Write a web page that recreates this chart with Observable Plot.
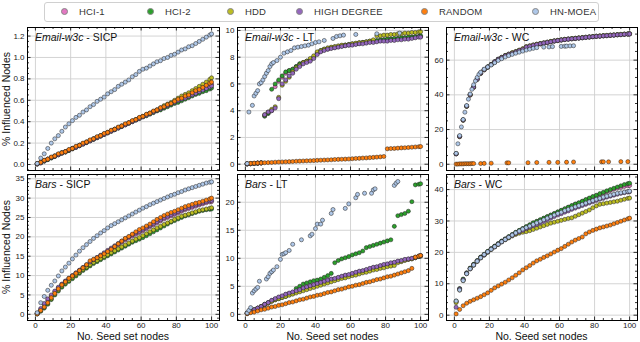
<!DOCTYPE html>
<html><head><meta charset="utf-8">
<script src="https://cdn.jsdelivr.net/npm/d3@7"></script>
<script src="https://cdn.jsdelivr.net/npm/@observablehq/plot@0.6"></script>
<style>
body{margin:0;background:#fff;font-family:"Liberation Sans",Arial,Helvetica,sans-serif;}
#fig{position:relative;width:640px;height:342px;overflow:hidden;background:#fff}
.pane{position:absolute}
.ttl{position:absolute;font-size:10.5px;line-height:10.5px;color:#111;white-space:nowrap}
.xl{position:absolute;font-size:10.5px;line-height:10.5px;color:#111;white-space:nowrap;transform:translateX(-50%)}
.yl{position:absolute;font-size:10.5px;line-height:10.5px;color:#111;white-space:nowrap;transform:translate(-50%,-50%) rotate(-90deg)}
.lg{position:absolute;left:44px;top:2px;width:553px;height:18px;border:1px solid #d0d0d0;border-radius:3px;background:#fff}
.lm{position:absolute;width:7px;height:7px;border-radius:50%;box-sizing:border-box;border:0.5px solid #888}
.lt{position:absolute;font-size:9.5px;line-height:9.5px;color:#333;white-space:nowrap;letter-spacing:0.2px}
</style></head>
<body><div id="fig"></div>
<script>
// ---------------- data ----------------
const names = ["HCI-1","HCI-2","HDD","HIGH DEGREE","RANDOM","HN-MOEA"];
const colors = ["#e377c2","#2ca02c","#bcbd22","#9467bd","#ff7f0e","#aec7e8"];
const xTicks = [0,20,40,60,80,100];
const seeds = [1,3,5,7,9,11,13,15,17,19, 21,23,25,27,29,31,33,35,37,39, 41,43,45,47,49,51,53,55,57,59, 61,63,65,67,69,71,73,75,77,79, 81,83,85,87,89,91,93,95,97,99, 100];

// Email-w3c SICP
const emailSicpTicks = [0,0.2,0.4,0.6,0.8,1.0,1.2];
const emailSicpHci1 = [.005,.02,.035,.05,.065,.08,.095,.11,.12,.135, .15,.165,.18,.195,.21,.225,.24,.255,.27,.285, .30,.315,.33,.345,.36,.375,.39,.405,.42,.435, .45,.465,.48,.495,.51,.525,.54,.555,.57,.585, .60,.615,.63,.645,.66,.675,.69,.705,.72,.74, .75];
const emailSicpHci2 = [.005,.015,.03,.045,.06,.075,.09,.105,.115,.13, .145,.16,.175,.19,.205,.22,.235,.25,.265,.28, .295,.31,.325,.34,.355,.37,.385,.40,.415,.43, .445,.455,.47,.485,.50,.51,.525,.54,.555,.57, .58,.595,.61,.625,.64,.655,.665,.68,.69,.705, .715];
const emailSicpHdd = [.005,.02,.035,.05,.065,.08,.095,.11,.12,.135, .15,.165,.18,.195,.21,.225,.24,.255,.27,.285, .30,.315,.33,.345,.36,.375,.39,.405,.42,.435, .45,.465,.48,.495,.51,.53,.55,.565,.58,.60, .62,.64,.655,.67,.69,.71,.73,.75,.77,.795, .81];
const emailSicpHd = [.005,.015,.035,.05,.065,.075,.09,.105,.12,.135, .15,.16,.175,.19,.205,.22,.235,.25,.265,.28, .295,.31,.325,.34,.355,.37,.385,.40,.415,.43, .445,.46,.475,.49,.505,.52,.535,.55,.565,.58, .595,.61,.62,.635,.65,.665,.68,.695,.71,.725, .735];
const emailSicpRandom = [.01,.02,.04,.05,.07,.08,.10,.11,.12,.14, .15,.17,.18,.20,.21,.23,.24,.26,.27,.29, .30,.32,.33,.35,.36,.38,.39,.41,.42,.44, .45,.47,.48,.50,.51,.53,.54,.56,.57,.59, .61,.62,.64,.65,.67,.69,.70,.72,.74,.76, .77];
const emailSicpMoea = [.01,.06,.10,.15,.20,.24,.27,.31,.35,.38, .41,.44,.46,.49,.51,.54,.56,.59,.61,.63, .66,.68,.70,.73,.75,.77,.79,.82,.84,.87, .89,.90,.92,.94,.96,.97,.99,1.00,1.02,1.03, 1.05,1.07,1.08,1.10,1.11,1.13,1.15,1.17,1.19,1.21, 1.22];

// Email-w3c LT
const emailLtTicks = [0,2,4,6,8,10];
const emailLtHci1 = [.02,.04,.06,.08,.10,3.6,3.8,4.0,5.8,6.2, 6.5,6.8,7.0,7.1,7.3,7.5,7.6,7.7,7.8,8.0, 8.3,8.45,8.55,8.6,8.7,8.75,8.8,8.85,8.9,8.9, 8.95,9.0,9.05,9.1,9.1,9.15,9.2,9.2,9.25,9.3, 9.3,9.35,9.35,9.4,9.4,9.45,9.45,9.5,9.5,9.55, 9.55];
const emailLtHci2 = [.02,.04,.06,.08,.10,3.6,3.8,5.6,6.0,6.3, 6.6,6.9,7.0,7.1,7.3,7.5,7.6,7.7,7.8,8.0, 8.3,8.5,8.6,8.65,8.7,8.75,8.8,8.85,8.9,8.95, 9.0,9.0,9.05,9.1,9.15,9.2,9.2,9.25,9.3,9.3, 9.35,9.35,9.4,9.4,9.45,9.45,9.5,9.5,9.55,9.55, 9.6];
const emailLtHdd = [.02,.03,.05,.07,.09,3.7,3.9,4.1,4.3,5.0, 5.9,6.2,6.5,6.9,7.2,7.4,7.6,7.7,7.9,8.1, 8.4,8.5,8.6,8.7,8.75,8.8,8.85,8.9,8.9,8.95, 9.0,9.05,9.1,9.1,9.15,9.2,9.3,9.6,9.6,9.65, 9.65,9.7,9.7,9.75,9.75,9.8,9.8,9.85,9.85,9.9, 9.9];
const emailLtHd = [.02,.04,.06,.08,.10,3.7,3.9,4.0,4.2,4.9, 6.0,6.3,6.6,6.8,7.1,7.3,7.5,7.6,7.7,7.9, 8.2,8.4,8.5,8.6,8.65,8.7,8.75,8.8,8.85,8.9, 8.9,8.95,9.0,9.0,9.05,9.1,9.1,9.15,9.2,9.2, 9.2,9.25,9.25,9.3,9.3,9.35,9.35,9.4,9.45,9.5, 9.5];
const emailLtRandom = [.05,.06,.08,.09,.10,.11,.12,.13,.15,.16, .17,.18,.19,.20,.22,.23,.24,.25,.26,.27, .29,.30,.31,.32,.33,.35,.36,.37,.38,.39, .41,.43,.44,.46,.47,.49,.51,.53,.55,.58, 1.15,1.17,1.18,1.20,1.22,1.23,1.25,1.27,1.29,1.31, 1.32];
const emailLtMoeaX = [1,2,4,5,6,7,8,9,10,11, 12,13,14,15,16,18,20,22,24,26, 28,30,32,34,36,38,40,42,45,50, 52,54,56,63,75,88];
const emailLtMoeaY = [0.05,3.9,4.4,5.1,5.3,5.5,6.0,6.1,6.3,6.55, 6.8,7.0,7.3,7.5,7.6,7.75,8.0,8.3,8.4,8.5, 8.7,8.75,8.8,8.85,8.9,9.0,9.1,9.15,9.25,9.4, 9.55,9.6,9.65,9.7,9.75,9.8];

// Email-w3c WC
const emailWcTicks = [0,20,40,60];
const emailWcHci1 = [6,16,25.4,33.4,40,44.4,49,52.4,54.5,56, 57.5,59,60.4,61.5,62.5,63.2,64,64.6,65.4,66.1, 67.3,67.9,68.4,68.9,69.3,69.7,70.1,70.5,70.9,71.2, 71.5,71.8,72,72.2,72.4,72.6,72.8,73,73.2,73.4, 73.6,73.7,73.9,74,74.2,74.3,74.5,74.6,74.8,74.9, 75];
const emailWcHci2 = [6.1,16.2,25.6,33.6,40.2,44.6,49.1,52.6,54.6,56.1, 57.6,59.1,60.6,61.6,62.6,63.4,64.1,64.8,65.6,66.3, 67.6,68.1,68.6,69.1,69.5,69.9,70.3,70.7,71.1,71.4, 71.7,72,72.2,72.4,72.6,72.8,73,73.2,73.4,73.6, 73.8,73.9,74.1,74.2,74.4,74.5,74.7,74.8,75,75.1, 75.2];
const emailWcHdd = [6,15.8,25.3,33.3,39.8,44.3,48.8,52.3,54.3,55.9, 57.4,58.9,60.4,61.6,62.7,63.5,64.3,65,65.8,66.6, 67.8,68.3,68.8,69.2,69.6,70,70.4,70.8,71.1,71.4, 71.7,72,72.2,72.4,72.6,72.8,73,73.2,73.4,73.6, 73.8,74,74.1,74.3,74.4,74.6,74.7,74.9,75,75.1, 75.2];
const emailWcHd = [6,16,25.5,33.5,40,44.5,49,52.5,54.5,56, 57.5,59,60.5,61.5,62.5,63.3,64,64.7,65.5,66.2, 67.5,68,68.5,69,69.4,69.8,70.2,70.6,71,71.3, 71.6,71.9,72.1,72.3,72.5,72.7,72.9,73.1,73.3,73.5, 73.7,73.8,74,74.1,74.3,74.4,74.6,74.7,74.9,75, 75.1];
const emailWcRandomX = [1,2,3,4,5,6,7,8,9,10, 11,15,17,21,30,31,42,47,54,59, 64,68,84,85,88,95,99];
const emailWcRandomY = [0.1,0.1,0.2,0.2,0.2,0.3,0.3,0.3,0.3,0.4, 0.4,0.4,0.5,0.6,0.8,0.8,0.9,1.0,1.1,1.1, 1.2,1.3,1.4,1.4,1.4,1.5,1.5];
const emailWcMoeaX = [1,2,3,4,5,6,7,8,9,10, 11,12,13,14,15,17,19,21,23,25, 27,29,31,33,35,37,39,41,43,45, 47,51,54,56,61,63,64,66,68];
const emailWcMoeaY = [6.3,11.8,16.5,21.5,25.8,30,33.8,37.5,40.5,43.2, 45.8,48,50,51.8,53,54.8,56,57.2,58.5,59.8, 60.8,61.8,62.6,63.3,64,64.6,65.2,65.8,66.3,66.8, 67.2,67.5,67.6,67.8,67.9,68,68.1,68.2,68.3];

// Bars SICP
const barsSicpTicks = [0,5,10,15,20,25,30,35];
const barsSicpHci1 = [0.2,1.2,2.4,3.6,4.7,5.8,6.8,7.7,8.5,9.2, 9.9,10.6,11.3,12.0,12.6,13.2,13.8,14.4,15.0,15.6, 16.2,16.8,17.4,18.0,18.6,19.2,19.7,20.2,20.7,21.1, 21.6,22.1,22.6,23.1,23.6,24.1,24.6,25.0,25.4,25.8, 26.2,26.6,27.0,27.3,27.6,27.9,28.2,28.5,28.8,29.0, 29.1];
const barsSicpHci2 = [0.1,0.8,1.6,2.6,3.8,5.0,6.0,7.0,7.8,8.5, 9.2,9.9,10.6,11.3,11.9,12.5,13.1,13.6,14.1,14.6, 15.1,15.6,16.1,16.6,17.1,17.6,18.1,18.6,19.0,19.4, 19.8,20.3,20.8,21.3,21.8,22.3,22.8,23.3,23.8,24.2, 24.6,25.0,25.4,25.7,26.0,26.3,26.6,26.8,27.0,27.1, 27.2];
const barsSicpHdd = [0.1,0.9,1.8,2.8,4.0,5.2,6.3,7.3,8.1,8.8, 9.5,10.2,10.9,11.6,12.2,12.8,13.4,13.9,14.4,14.9, 15.4,15.9,16.4,16.9,17.4,17.9,18.4,18.9,19.4,19.8, 20.3,20.8,21.3,21.8,22.3,22.7,23.2,23.6,24.0,24.5, 24.9,25.3,25.6,25.9,26.2,26.5,26.8,27.0,27.2,27.4, 27.5];
const barsSicpHd = [0.3,1.5,2.8,4.0,5.0,6.0,7.0,7.8,8.6,9.3, 10.0,10.7,11.4,12.1,12.8,13.5,14.1,14.7,15.3,15.9, 16.5,17.1,17.7,18.3,18.9,19.5,20.0,20.5,21.0,21.4, 21.9,22.4,22.9,23.4,23.9,24.4,24.9,25.3,25.7,26.1, 26.5,26.9,27.3,27.6,27.9,28.2,28.5,28.8,29.1,29.3, 29.4];
const barsSicpRandom = [0.1,1.0,1.9,3.0,4.3,5.4,6.6,7.6,8.4,9.3, 9.9,10.6,11.3,12.0,12.8,13.8,14.2,14.6,15.1,15.6, 16.2,16.8,17.5,18.2,18.9,19.6,20.1,20.7,21.3,21.9, 22.3,22.8,23.3,23.9,24.5,25.0,25.5,25.9,26.3,26.6, 27.0,27.4,27.8,28.1,28.4,28.7,28.9,29.2,29.5,29.8, 30.0];
const barsSicpMoea = [0.4,3.0,4.6,6.2,7.5,8.6,9.9,11.2,12.2,13.2, 14.3,15.3,16.3,17.2,18.0,18.8,19.6,20.3,21.0,21.6, 22.3,22.9,23.4,23.9,24.4,24.9,25.4,25.9,26.4,26.9, 27.4,27.8,28.3,28.7,29.1,29.5,29.9,30.3,30.7,31.0, 31.4,31.7,32.1,32.4,32.7,33.0,33.3,33.6,33.9,34.1, 34.2];

// Bars LT
const barsLtTicks = [0,5,10,15,20];
const barsLtHci1 = [0.2,0.5,0.8,1.1,1.4,1.7,2.0,2.4,2.7,3.0, 3.2,3.5,3.7,3.9,4.1,4.3,4.6,4.8,5.0,5.2, 5.4,5.6,5.8,6.0,6.2,6.3,6.5,6.7,6.9,7.0, 7.2,7.4,7.6,7.7,7.9,8.1,8.3,8.4,8.6,8.8, 8.9,9.1,9.2,9.4,9.5,9.7,9.8,9.9,10.1,10.3, 10.4];
const barsLtHci2 = [0.2,0.5,0.8,1.1,1.4,1.8,2.1,2.4,2.6,2.8, 3.0,3.2,3.5,3.7,4.6,5.0,5.4,5.6,5.8,6.0, 6.1,6.3,6.6,6.9,7.3,9.2,9.6,9.9,10.1,10.3, 10.6,10.8,11.0,11.3,11.9,12.1,12.3,12.5,12.7,12.9, 13.1,13.3,15.7,17.6,17.8,18.0,18.4,20.1,23.1,23.2, 23.3];
const barsLtHdd = [0.2,0.5,0.8,1.1,1.4,1.7,2.0,2.3,2.6,2.8, 3.0,3.2,3.4,3.6,3.8,4.0,4.2,4.4,4.6,4.8, 5.0,5.2,5.4,5.6,5.8,6.0,6.2,6.4,6.5,6.7, 6.9,7.0,7.2,7.4,7.5,7.7,7.9,8.0,8.2,8.3, 8.5,8.6,8.7,9.2,9.4,9.6,9.8,9.9,10.1,10.3, 10.4];
const barsLtHd = [0.2,0.5,0.8,1.1,1.4,1.8,2.1,2.5,2.8,3.1, 3.3,3.6,3.8,4.0,4.2,4.4,4.7,4.9,5.1,5.3, 5.5,5.7,5.9,6.1,6.3,6.4,6.6,6.8,7.0,7.1, 7.3,7.5,7.7,7.8,8.0,8.2,8.4,8.5,8.7,8.9, 9.0,9.2,9.3,9.5,9.6,9.8,9.9,10.0,10.2,10.4, 10.5];
const barsLtRandom = [0.1,0.3,0.4,0.6,0.8,0.9,1.1,1.3,1.4,1.6, 1.7,1.9,2.1,2.2,2.4,2.6,2.7,2.9,3.1,3.2, 3.4,3.5,3.7,3.9,4.0,4.2,4.4,4.5,4.7,4.9, 5.0,5.2,5.3,5.5,5.7,5.8,6.0,6.2,6.3,6.5, 6.7,6.8,7.0,7.2,7.4,7.6,7.8,8.2,10.2,10.4, 10.5];
const barsLtMoeaX = [1,2,3,4,5,6,7,8,12,13, 14,15,16,18,20,21,22,23,25,27, 32,37,38,40,41,43,44,49,50,57, 59,63,64,68,72,73,74,85,86,87];
const barsLtMoeaY = [0.25,0.7,1.2,3.8,4.2,4.5,4.8,5.9,6.3,6.7, 7.3,7.6,7.9,8.5,9.8,10.7,10.8,11.0,11.4,12.5, 13.3,14.0,14.3,15.3,16.1,16.1,16.8,18.0,18.7,18.9, 19.7,20.8,21.4,21.6,21.6,22.2,22.4,23.0,23.4,23.7];

// Bars WC
const barsWcTicks = [0,10,20,30,40];
const barsWcHci1 = [4.3,8.3,11.3,13.4,14.9,16.1,17.3,18.4,19.3,20.2, 21.1,21.9,22.7,23.5,24.2,24.9,25.6,26.3,26.9,27.5, 28.1,28.7,29.3,29.8,30.3,30.8,31.3,31.8,32.3,32.8, 33.3,33.8,34.3,34.8,35.3,35.7,36.2,36.7,37.1,37.6, 38.0,38.4,38.8,39.3,39.7,40.1,40.4,40.7,41.0,41.2, 41.3];
const barsWcHci2 = [4.5,8.5,11.5,13.5,15.0,16.2,17.4,18.5,19.4,20.3, 21.2,22.0,22.8,23.6,24.3,25.0,25.7,26.4,27.0,27.6, 28.2,28.8,29.4,29.9,30.4,30.9,31.4,31.9,32.4,32.9, 33.4,33.9,34.4,34.9,35.4,35.8,36.3,36.8,37.3,37.8, 38.2,38.7,39.1,39.6,40.0,40.4,40.8,41.2,41.6,41.9, 42.0];
const barsWcHdd = [4.0,8.0,11.0,13.2,14.7,15.9,17.1,18.2,19.1,20.0, 20.9,21.7,22.5,23.3,24.0,24.6,25.2,25.7,26.1,26.4, 26.6,26.9,27.3,27.7,28.1,28.5,28.9,29.3,29.6,29.9, 30.2,30.5,30.8,31.0,31.5,32.0,32.5,33.0,33.5,34.2, 34.8,35.3,35.5,35.7,35.9,36.1,36.3,36.6,36.9,37.2, 37.3];
const barsWcHd = [2.5,8.3,11.3,13.3,14.8,16.0,17.2,18.3,19.2,20.1, 21.0,21.8,22.6,23.4,24.1,24.8,25.4,26.0,26.5,27.0, 27.5,28.0,28.5,28.9,29.4,29.9,30.4,30.9,31.4,31.9, 32.3,32.8,33.2,33.7,34.1,34.5,34.9,35.3,35.7,36.1, 36.5,36.9,37.2,37.6,37.9,38.2,38.5,38.8,39.0,39.2, 39.3];
const barsWcRandom = [0.4,1.8,3.0,3.8,4.4,4.9,5.4,5.9,6.5,7.1, 7.9,8.7,9.3,9.9,10.5,11.2,11.9,12.7,13.5,14.4, 15.1,15.8,16.6,17.3,17.8,18.4,18.9,19.5,20.1,20.7, 21.2,21.9,22.6,23.3,23.9,24.4,24.9,25.9,26.5,27.0, 27.4,27.8,28.1,28.4,28.7,29.1,29.5,29.9,30.3,30.7, 30.9];
const barsWcMoea = [4.5,8.0,11.0,13.2,14.8,16.0,17.2,18.3,19.3,20.2, 21.0,21.8,22.6,23.4,24.1,24.8,25.5,26.2,26.8,27.4, 27.9,28.4,28.9,29.4,29.9,30.4,30.9,31.4,31.9,32.4, 32.8,33.3,33.7,34.1,34.5,34.9,35.3,35.7,36.1,36.5, 36.9,37.2,37.6,37.9,38.2,38.5,38.8,39.0,39.2,39.4, 39.5];

// ---------------- build ----------------
const FONT = '"Liberation Sans", Arial, Helvetica, sans-serif';
const rows = (xs, ys, s) => ys.map((y, i) => ({x: xs[i], y, s}));

const panels = [
  {ds:"Email-w3c", model:"SICP", col:0, row:0, yDomain:[-0.056,1.28], yTicks:emailSicpTicks, minor:0.05, fmt:".1f",
   series:[rows(seeds,emailSicpHci1,"HCI-1"), rows(seeds,emailSicpHci2,"HCI-2"), rows(seeds,emailSicpHdd,"HDD"), rows(seeds,emailSicpHd,"HIGH DEGREE"), rows(seeds,emailSicpRandom,"RANDOM"), rows(seeds,emailSicpMoea,"HN-MOEA")]},
  {ds:"Email-w3c", model:"LT", col:1, row:0, yDomain:[-0.47,10.22], yTicks:emailLtTicks, minor:0.5, fmt:"d",
   series:[rows(seeds,emailLtHci1,"HCI-1"), rows(seeds,emailLtHci2,"HCI-2"), rows(seeds,emailLtHdd,"HDD"), rows(seeds,emailLtHd,"HIGH DEGREE"), rows(seeds,emailLtRandom,"RANDOM"), rows(emailLtMoeaX,emailLtMoeaY,"HN-MOEA")]},
  {ds:"Email-w3c", model:"WC", col:2, row:0, yDomain:[-3.6,78.8], yTicks:emailWcTicks, minor:5, fmt:"d",
   series:[rows(seeds,emailWcHci1,"HCI-1"), rows(seeds,emailWcHci2,"HCI-2"), rows(seeds,emailWcHdd,"HDD"), rows(seeds,emailWcHd,"HIGH DEGREE"), rows(emailWcRandomX,emailWcRandomY,"RANDOM"), rows(emailWcMoeaX,emailWcMoeaY,"HN-MOEA")]},
  {ds:"Bars", model:"SICP", col:0, row:1, yDomain:[-1.6,36.1], yTicks:barsSicpTicks, minor:1, fmt:"d",
   series:[rows(seeds,barsSicpHci1,"HCI-1"), rows(seeds,barsSicpHci2,"HCI-2"), rows(seeds,barsSicpHdd,"HDD"), rows(seeds,barsSicpHd,"HIGH DEGREE"), rows(seeds,barsSicpRandom,"RANDOM"), rows(seeds,barsSicpMoea,"HN-MOEA")]},
  {ds:"Bars", model:"LT", col:1, row:1, yDomain:[-1.1,24.95], yTicks:barsLtTicks, minor:1, fmt:"d",
   series:[rows(seeds,barsLtHci1,"HCI-1"), rows(seeds,barsLtHci2,"HCI-2"), rows(seeds,barsLtHdd,"HDD"), rows(seeds,barsLtHd,"HIGH DEGREE"), rows(seeds,barsLtRandom,"RANDOM"), rows(barsLtMoeaX,barsLtMoeaY,"HN-MOEA")]},
  {ds:"Bars", model:"WC", col:2, row:1, yDomain:[-1.7,44.8], yTicks:barsWcTicks, minor:2, fmt:"d",
   series:[rows(seeds,barsWcHci1,"HCI-1"), rows(seeds,barsWcHci2,"HCI-2"), rows(seeds,barsWcHdd,"HDD"), rows(seeds,barsWcHd,"HIGH DEGREE"), rows(seeds,barsWcRandom,"RANDOM"), rows(seeds,barsWcMoea,"HN-MOEA")]}
];

const colFrames = [[27,219],[237,428],[446,637]];
const rowFrames = [[27,170],[174,320]];
const fig = document.getElementById("fig");
const xMinor = d3.range(0, 21).map(i => i * 5).filter(v => v % 20 !== 0);

for (const P of panels) {
  const [fL, fR] = colFrames[P.col], [fT, fB] = rowFrames[P.row];
  const mL = 25, mR = 3, mT = 2, mB = P.row ? 20 : 3;
  const innerW = fR - fL, innerH = fB - fT;
  const [lo, hi] = P.yDomain;
  const yMinor = d3.range(Math.ceil(lo / P.minor), Math.floor(hi / P.minor) + 1)
    .map(i => +(i * P.minor).toFixed(4)).filter(v => !P.yTicks.includes(v));
  const tk = {stroke: "#000", strokeWidth: 0.8};
  const chart = Plot.plot({
    width: innerW + mL + mR, height: innerH + mT + mB,
    marginLeft: mL, marginRight: mR, marginTop: mT, marginBottom: mB,
    x: P.row ? {domain: [-4.5, 104.5], label: null} : {domain: [-4.5, 104.5], axis: null, label: null},
    y: {domain: P.yDomain, label: null},
    color: {domain: names, range: colors},
    style: {fontFamily: FONT, fontSize: "8px", color: "#222", background: "transparent", overflow: "visible"},
    marks: [
      Plot.gridX(xTicks, {stroke: "#cfcfcf", strokeOpacity: 1, strokeWidth: 0.9}),
      Plot.gridY(P.yTicks, {stroke: "#cfcfcf", strokeOpacity: 1, strokeWidth: 0.9}),
      Plot.dot(P.series.flat(), {x: "x", y: "y", fill: "s", r: 2.05, stroke: "#1e1e1e", strokeWidth: 0.5}),
      Plot.tickX(xTicks, {x: d => d, insetTop: innerH - 3.5, ...tk}),
      Plot.tickX(xTicks, {x: d => d, insetBottom: innerH - 3.5, ...tk}),
      Plot.tickX(xMinor, {x: d => d, insetTop: innerH - 2, ...tk}),
      Plot.tickX(xMinor, {x: d => d, insetBottom: innerH - 2, ...tk}),
      Plot.tickY(P.yTicks, {y: d => d, insetRight: innerW - 3.5, ...tk}),
      Plot.tickY(P.yTicks, {y: d => d, insetLeft: innerW - 3.5, ...tk}),
      Plot.tickY(yMinor, {y: d => d, insetRight: innerW - 2, ...tk}),
      Plot.tickY(yMinor, {y: d => d, insetLeft: innerW - 2, ...tk}),
      Plot.axisY(P.yTicks, {tickSize: 0, tickPadding: 3, tickFormat: d3.format(P.fmt), label: null}),
      P.row ? Plot.axisX(xTicks, {tickSize: 0, tickPadding: 2, label: null}) : null,
      Plot.frame({stroke: "#000", strokeWidth: 1})
    ]
  });
  const wrap = document.createElement("div");
  wrap.className = "pane";
  wrap.style.left = (fL - mL) + "px";
  wrap.style.top = (fT - mT) + "px";
  wrap.appendChild(chart);
  fig.appendChild(wrap);

  const t = document.createElement("div");
  t.className = "ttl";
  t.style.left = (fL + 8) + "px";
  t.style.top = (fT + 13.8 - 8.9) + "px";
  const it = document.createElement("i");
  it.textContent = P.ds;
  t.appendChild(it);
  t.appendChild(document.createTextNode(" - " + P.model));
  fig.appendChild(t);

  if (P.row === 1) {
    const xl = document.createElement("div");
    xl.className = "xl";
    xl.textContent = "No. Seed set nodes";
    xl.style.left = ((fL + fR) / 2) + "px";
    xl.style.top = "331px";
    fig.appendChild(xl);
  }
  if (P.col === 0) {
    const yl = document.createElement("div");
    yl.className = "yl";
    yl.textContent = "% Influenced Nodes";
    yl.style.left = "6px";
    yl.style.top = ((fT + fB) / 2) + "px";
    fig.appendChild(yl);
  }
}

// legend
const lg = document.createElement("div");
lg.className = "lg";
fig.appendChild(lg);
const markerX = [64,150,230,299,424,535];
names.forEach((n, i) => {
  const m = document.createElement("div");
  m.className = "lm";
  m.style.background = colors[i];
  m.style.left = (markerX[i] - 3.5) + "px";
  m.style.top = (11.5 - 3.5) + "px";
  fig.appendChild(m);
  const l = document.createElement("div");
  l.className = "lt";
  l.textContent = n;
  l.style.left = (markerX[i] + 15) + "px";
  l.style.top = (11.5 - 4.8) + "px";
  fig.appendChild(l);
});
</script>
</body></html>
